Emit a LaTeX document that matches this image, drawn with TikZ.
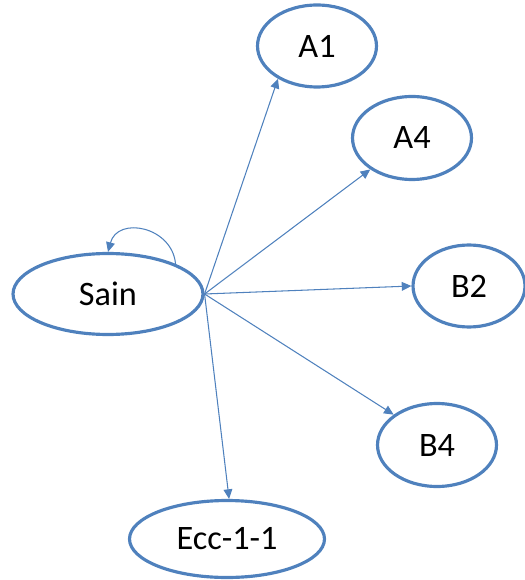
\documentclass[tikz,border=0pt]{standalone}
\usepackage{fontspec}
\setmainfont{Carlito}
\usepackage{tikz}
\usetikzlibrary{shapes.geometric,arrows.meta}
\definecolor{statblue}{RGB}{79,129,189}

\begin{document}
\begin{tikzpicture}[
        x=0.02cm, y=-0.02cm,
        state/.style 2 args={ellipse, draw=statblue, line width=1.8pt,
            inner sep=0pt, minimum width=#1, minimum height=#2,
            text=black, font=\fontsize{19.5}{23}\selectfont},
        link/.style={-{Triangle[width=5pt,length=5.5pt]}, draw=statblue, line width=0.6pt}
    ]
        \useasboundingbox (0,0) rectangle (524,580);
        \node[state={3.8cm}{1.62cm}] (sain) at (108,294) {Sain};
        \node[state={2.38cm}{1.64cm}] (a1) at (317,46) {A1};
        \node[state={2.38cm}{1.66cm}] (a4) at (412,138) {A4};
        \node[state={2.24cm}{1.64cm}] (b2) at (469,286) {B2};
        \node[state={2.38cm}{1.66cm}] (b4) at (437,445) {B4};
        \node[state={3.9cm}{1.54cm}] (ecc) at (227,539) {Ecc-1-1};

        \draw[link] (sain.east) -- (a1.220);
        \draw[link] (sain.east) -- (a4.217);
        \draw[link] (sain.east) -- (b2.west);
        \draw[link] (sain.east) -- (b4.145);
        \draw[link] (sain.east) -- (ecc.87);
        \draw[link] (sain.24) to[out=95, in=75, looseness=1.4] (sain.north);
    \end{tikzpicture}
\end{document}
